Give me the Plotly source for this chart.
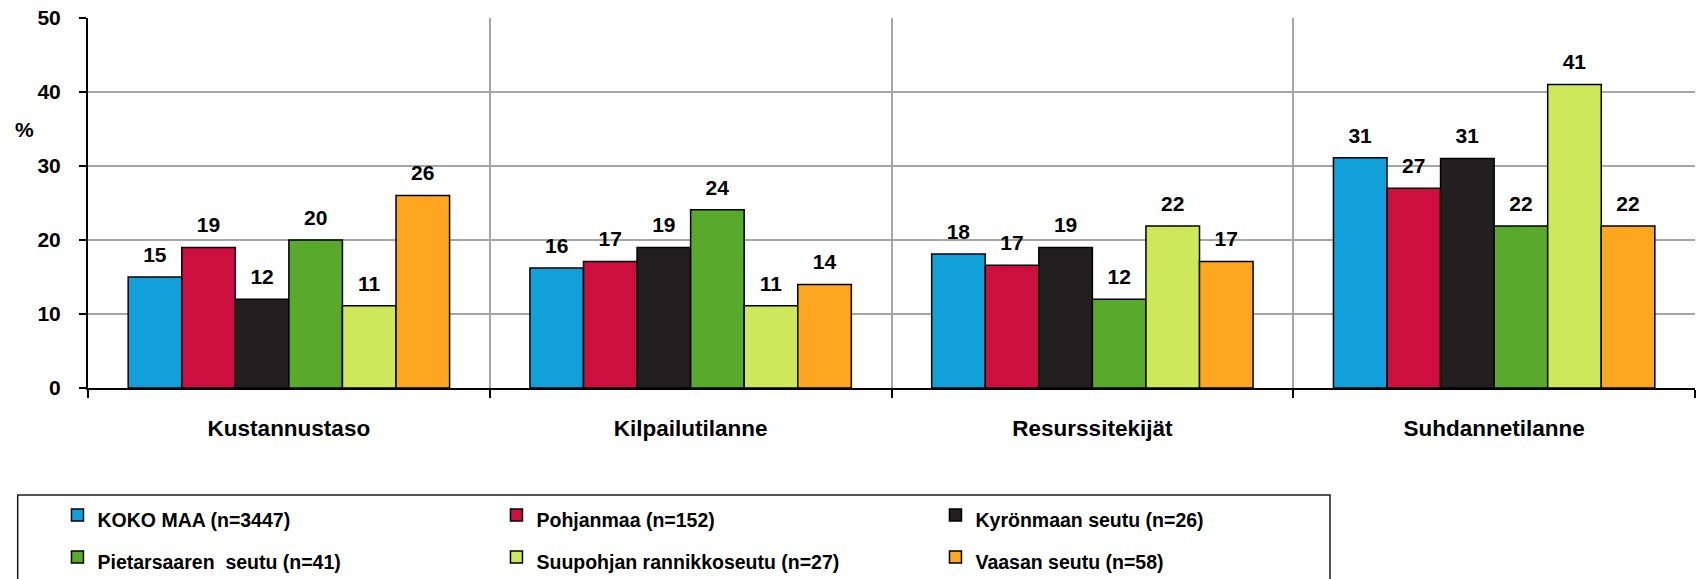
import plotly.graph_objects as go

categories = ["Kustannustaso", "Kilpailutilanne", "Resurssitekijät", "Suhdannetilanne"]
series_names = [
    "KOKO MAA (n=3447)",
    "Pohjanmaa (n=152)",
    "Kyrönmaan seutu (n=26)",
    "Pietarsaaren  seutu (n=41)",
    "Suupohjan rannikkoseutu (n=27)",
    "Vaasan seutu (n=58)",
]
koko_maa = [15, 16.2, 18.1, 31.1]
pohjanmaa = [19, 17.1, 16.6, 27]
kyronmaa = [12, 19, 19, 31]
pietarsaari = [20, 24.1, 12, 21.9]
suupohja = [11.1, 11.1, 21.9, 41]
vaasa = [26, 14, 17.1, 21.9]
series_values = [koko_maa, pohjanmaa, kyronmaa, pietarsaari, suupohja, vaasa]
colors = ["#11a0d9", "#cd0f3f", "#231f20", "#58a92c", "#cde85a", "#fda620"]
y_ticks = [0, 10, 20, 30, 40, 50]

FONT = "Liberation Sans, Arial, sans-serif"
label_shift = 1.1  # lift of the value labels above the bar tops, in axis units

fig = go.Figure()
for name, vals, col in zip(series_names, series_values, colors):
    fig.add_trace(go.Bar(
        x=categories, y=vals,
        name=f"<span style='font-size:19.5px'>{name}</span>",
        marker=dict(color=col, line=dict(color="#000000", width=1.5)),
        yaxis="y",
    ))
# transparent copies on an overlaid, shifted axis carry the value labels
for name, vals in zip(series_names, series_values):
    fig.add_trace(go.Bar(
        x=categories, y=vals, name=name, showlegend=False,
        marker=dict(color="rgba(0,0,0,0)", line=dict(width=0)),
        text=[f"{v:.0f}" for v in vals], textposition="outside",
        textfont=dict(family=FONT, size=21, color="#000000", weight="bold"),
        cliponaxis=False, hoverinfo="skip",
        yaxis="y2",
    ))

fig.update_layout(
    width=1698, height=579,
    margin=dict(l=88, r=3, t=18, b=191, autoexpand=False),
    paper_bgcolor="white", plot_bgcolor="white",
    barmode="group", bargap=0.2, bargroupgap=0,
    font=dict(family=FONT, color="#000000"),
    xaxis=dict(
        type="category", tickson="boundaries", ticks="outside", ticklen=8,
        tickwidth=2, tickcolor="#000000",
        showgrid=True, gridcolor="#a6a6a6", gridwidth=1.5,
        showline=True, linecolor="#000000", linewidth=2,
        tickfont=dict(family=FONT, size=22.5, color="#000000", weight="bold"),
        ticklabelstandoff=19,
    ),
    yaxis=dict(
        range=[0, 50], tickvals=y_ticks, ticks="outside", ticklen=7,
        tickwidth=2, tickcolor="#000000",
        showgrid=True, gridcolor="#a6a6a6", gridwidth=1.5,
        showline=True, linecolor="#000000", linewidth=2, zeroline=False,
        tickfont=dict(family=FONT, size=21, color="#000000", weight="bold"),
        ticklabelstandoff=14,
    ),
    yaxis2=dict(
        overlaying="y", range=[-label_shift, 50 - label_shift], visible=False,
    ),
    legend=dict(
        orientation="h", x=-0.019, xanchor="left", y=-0.273, yanchor="top",
        entrywidth=394, entrywidthmode="pixels",
        borderwidth=0, bgcolor="rgba(0,0,0,0)",
        font=dict(family=FONT, size=30, color="#000000", weight="bold"),
        traceorder="normal",
    ),
    shapes=[dict(
        type="rect", xref="paper", yref="paper",
        x0=-0.04375, x1=0.77287, y0=-0.2892, y1=-0.573,
        line=dict(color="#1a1a1a", width=1.5), fillcolor="white", layer="below",
    )],
    annotations=[dict(
        text="%", xref="paper", yref="paper", x=0, xshift=-64, y=0.70,
        showarrow=False, xanchor="center", yanchor="middle",
        font=dict(family=FONT, size=21, color="#000000", weight="bold"),
    )],
)

fig.write_html(
    "out.html",
    config={"displayModeBar": False},
    post_script="document.body.style.margin='0';document.body.style.overflow='hidden';",
)
